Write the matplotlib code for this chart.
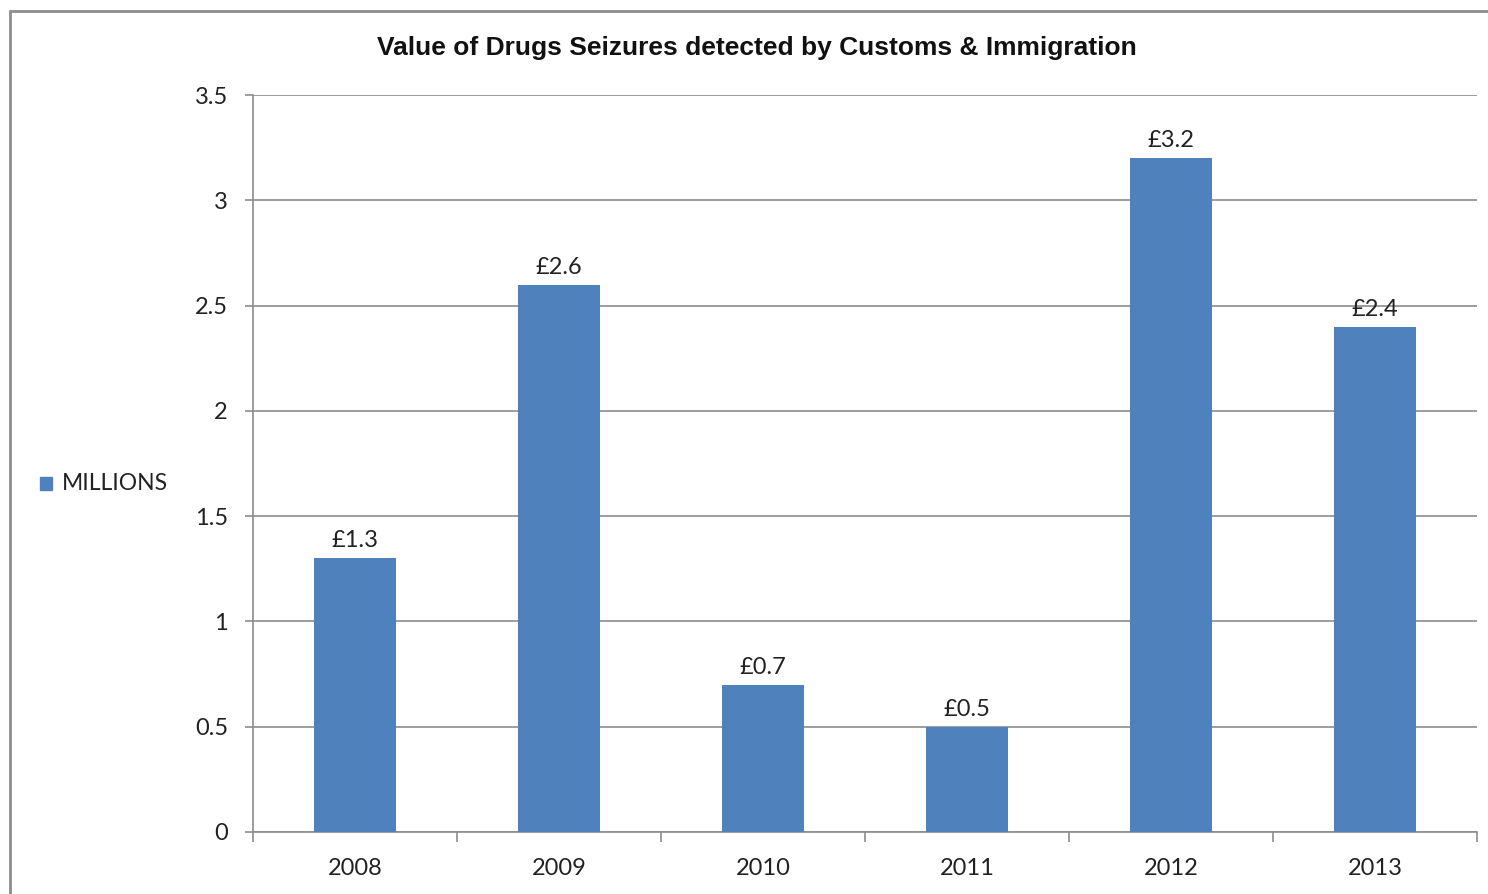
import matplotlib.pyplot as plt
from matplotlib.patches import Rectangle

# Chart data
years = ['2008', '2009', '2010', '2011', '2012', '2013']
millions = [1.3, 2.6, 0.7, 0.5, 3.2, 2.4]
bar_labels = ['£1.3', '£2.6', '£0.7', '£0.5', '£3.2', '£2.4']
y_ticks = [0, 0.5, 1, 1.5, 2, 2.5, 3, 3.5]
y_tick_labels = ['0', '0.5', '1', '1.5', '2', '2.5', '3', '3.5']

W, H = 1488, 894
fig = plt.figure(figsize=(W / 100, H / 100), dpi=100)

# Outer chart frame (runs off the right and bottom edges)
fig.patches.append(Rectangle((10 / W, -0.1), 1.2, 1 - 11 / H + 0.1,
                             transform=fig.transFigure, fill=False,
                             edgecolor='#8c8c8c', linewidth=2))

ax = fig.add_axes([253 / W, 62 / H, 1224 / W, 737 / H])

bar_color = '#4F81BD'
x = list(range(len(years)))
bars = ax.bar(x, millions, width=0.4, color=bar_color, zorder=3)

ax.set_xlim(-0.5, len(years) - 0.5)
ax.set_ylim(0, 3.5)
ax.set_yticks(y_ticks)
ax.set_yticklabels(y_tick_labels)
ax.set_xticks(x)
ax.set_xticklabels(years)

# Category boundary ticks
ax.set_xticks([i - 0.5 for i in range(len(years) + 1)], minor=True)
ax.tick_params(axis='x', which='major', length=0, pad=19)
ax.tick_params(axis='x', which='minor', length=7, color='#8c8c8c', width=1.2)
ax.tick_params(axis='y', length=6, color='#8c8c8c', width=1.2, pad=12)

for lab in ax.get_xticklabels() + ax.get_yticklabels():
    lab.set_fontfamily('Lato')
    lab.set_fontsize(17)
    lab.set_color('#222222')

ax.grid(axis='y', color='#8c8c8c', linewidth=1.2, zorder=0)
for side in ['top', 'right']:
    ax.spines[side].set_visible(False)
for side in ['left', 'bottom']:
    ax.spines[side].set_color('#8c8c8c')
    ax.spines[side].set_linewidth(1.2)

# Value labels above bars
for xi, v, lab in zip(x, millions, bar_labels):
    ax.annotate(lab, (xi, v), xytext=(0, 5), textcoords='offset points',
                ha='center', va='bottom', fontsize=17, fontfamily='Lato',
                color='#222222')

# Title
fig.text(757 / W, 1 - 48 / H, 'Value of Drugs Seizures detected by Customs & Immigration',
         ha='center', va='center', fontsize=19, fontweight='bold',
         fontfamily='Liberation Sans', color='#111111')

# Legend on the left
fig.patches.append(Rectangle((40 / W, 1 - 490 / H), 12 / W, 13 / H,
                             transform=fig.transFigure, color=bar_color))
fig.text(62 / W, 1 - 483 / H, 'MILLIONS', ha='left', va='center',
         fontsize=16.5, fontfamily='Lato', color='#222222')

fig.savefig('out.png', dpi=100)
